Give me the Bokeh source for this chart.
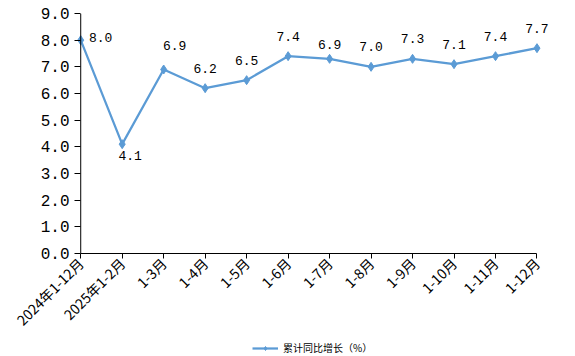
from bokeh.plotting import figure
from bokeh.layouts import column
from bokeh.models import ColumnDataSource, Range1d, FixedTicker, Legend, LegendItem, LabelSet, Span
from bokeh.core.properties import value
from bokeh.embed import file_html
from bokeh.resources import INLINE

categories = ["2024年1-12月", "2025年1-2月", "1-3月", "1-4月", "1-5月", "1-6月",
              "1-7月", "1-8月", "1-9月", "1-10月", "1-11月", "1-12月"]
values = [8.0, 4.1, 6.9, 6.2, 6.5, 7.4, 7.3, 7.0, 7.3, 7.1, 7.4, 7.7]
point_labels = ["8.0", "4.1", "6.9", "6.2", "6.5", "7.4", "6.9", "7.0", "7.3", "7.1", "7.4", "7.7"]
y_ticks = [0, 1, 2, 3, 4, 5, 6, 7, 8, 9]
y_tick_labels = ["0.0", "1.0", "2.0", "3.0", "4.0", "5.0", "6.0", "7.0", "8.0", "9.0"]
series_name = "累计同比增长（%）"

# label placement offsets (screen px)
lab_dx = [20, 8, 11, 0, 0, 0, 0, 0, 0, 0, 0, 0]
lab_dy = [3, -11, 24, 20, 20, 20, 14, 20, 20, 20, 20, 20]

xs = list(range(len(categories)))
src = ColumnDataSource(dict(x=xs, y=values, lab=point_labels, dx=lab_dx, dy=lab_dy))

W = 567
H1, H2 = 340, 16
LEFT = 74
PAD_L, PAD_R = 0.15, 0.35
FRAME_W = 477
p = figure(width=W, height=H1, output_backend="svg", toolbar_location=None,
           x_range=Range1d(-PAD_L, len(categories) - 1 + PAD_R), y_range=Range1d(0, 9),
           min_border_left=LEFT, min_border_right=W - LEFT - FRAME_W, min_border_top=13,
           min_border_bottom=H1 - 253)
p.outline_line_color = None
p.xgrid.grid_line_color = None
p.ygrid.grid_line_color = None

# y axis line at the first category
p.add_layout(Span(location=0, dimension="height", line_color="#000000", line_width=1))

blue = "#5B9BD5"
p.line("x", "y", source=src, line_color=blue, line_width=2.25)
p.scatter("x", "y", source=src, marker="diamond", size=9, fill_color=blue, line_color=blue)

labels = LabelSet(x="x", y="y", text="lab", source=src, x_offset="dx", y_offset="dy",
                  text_align="center", text_baseline="middle",
                  text_font=value("Liberation Mono"), text_font_size=value("13px"),
                  text_color="#000000")
p.add_layout(labels)

# axes
xa = p.xaxis[0]
xa.bounds = (0, len(categories) - 1)
xa.ticker = FixedTicker(ticks=xs)
xa.major_label_overrides = {i: c for i, c in zip(xs, categories)}
xa.major_label_orientation = 0.785398
xa.major_label_text_font = "Noto Sans CJK SC"
xa.major_label_text_font_size = "14px"
xa.major_label_text_color = "#000000"
xa.axis_line_color = "#000000"
xa.major_tick_line_color = "#000000"
xa.major_tick_in = 0
xa.major_tick_out = 5
xa.minor_tick_line_color = None
xa.major_label_standoff = 2

ya = p.yaxis[0]
ya.ticker = FixedTicker(ticks=y_ticks)
ya.major_label_overrides = {t: l for t, l in zip(y_ticks, y_tick_labels)}
ya.major_label_text_font = "Liberation Mono"
ya.major_label_text_font_size = "16px"
ya.major_label_text_color = "#000000"
ya.axis_line_color = None
ya.major_tick_line_color = "#000000"
ya.major_tick_in = 6
ya.major_tick_out = 0
ya.minor_tick_line_color = None
ya.major_label_standoff = 5

# legend strip below the chart (its frame is aligned with the chart frame)
lg = figure(width=W, height=H2, output_backend="svg", toolbar_location=None,
            x_axis_type=None, y_axis_type=None,
            x_range=Range1d(1000, 1001), y_range=Range1d(1000, 1001),
            min_border_left=0, min_border_right=0, min_border_top=0, min_border_bottom=0)
lg.outline_line_color = None
lg.xgrid.grid_line_color = None
lg.ygrid.grid_line_color = None
lr = lg.line("x", "y", source=src, line_color=blue, line_width=2.25)
lm = lg.scatter("x", "y", source=src, marker="diamond", size=8, fill_color=blue, line_color=blue)
legend = Legend(items=[LegendItem(label=series_name, renderers=[lr, lm])],
                location=(252 - LEFT, 1), orientation="horizontal",
                label_text_font="Noto Sans CJK SC", label_text_font_size="10px",
                label_text_color="#000000", glyph_width=26, glyph_height=10,
                label_height=10, label_standoff=5, padding=0, margin=0, spacing=0,
                border_line_color=None, background_fill_alpha=0)
lg.add_layout(legend)

layout = column(p, lg, spacing=0)
open("out.html", "w").write(file_html(layout, INLINE))
